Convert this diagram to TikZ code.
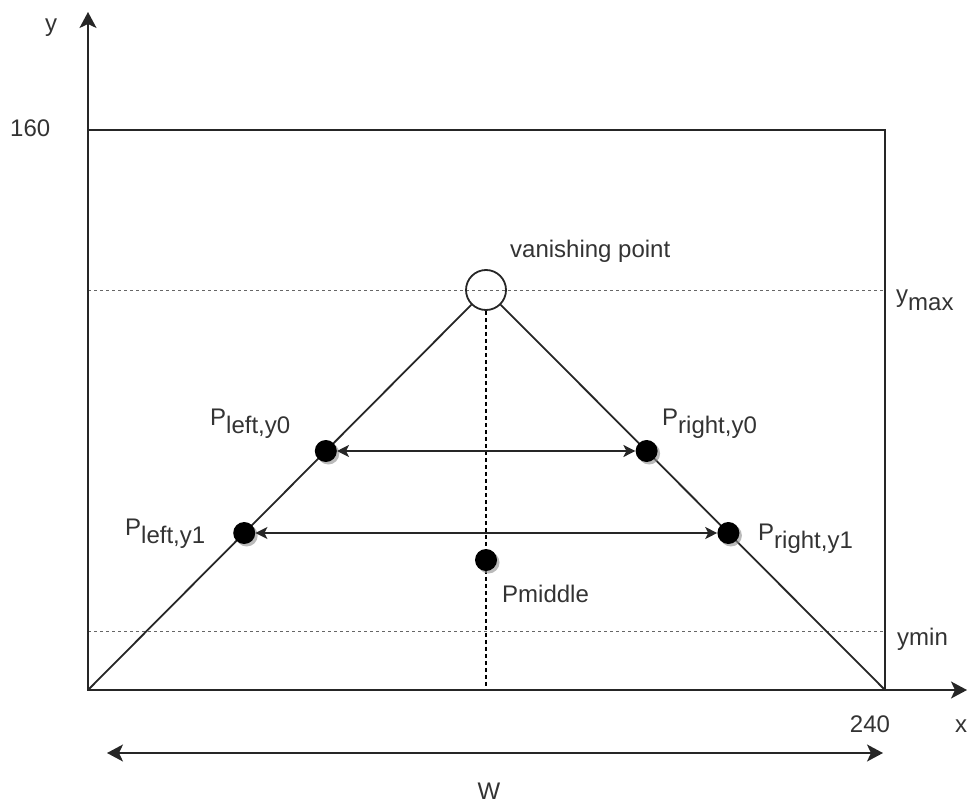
\documentclass[tikz,border=0pt]{standalone}
\usepackage{fontspec}
\setmainfont{Liberation Sans}
\usetikzlibrary{arrows.meta,calc,shadows}
\tikzset{
  bigtip/.tip={Stealth[length=16pt,width=17pt,inset=4pt]},
  smalltip/.tip={Stealth[length=12pt,width=12pt,inset=3pt]},
  line/.style={line width=1.8pt, draw=black!85},
  hdash/.style={line width=0.9pt, draw=black!60, dash pattern=on 3pt off 3pt},
  vdash/.style={line width=1.3pt, draw=black, dash pattern=on 4pt off 3pt},
  lbl/.style={font=\fontsize{24}{28}\selectfont, text=black!80, inner sep=0pt},
  dotnode/.style={circle, fill=black, minimum size=22pt, inner sep=0pt,
    drop shadow={shadow xshift=2.5pt, shadow yshift=-2.5pt, fill=black!45, opacity=0.6}},
  vpnode/.style={circle, draw=black!85, line width=1.8pt, minimum size=40pt, inner sep=0pt}
}
\newcommand{\lowsub}[1]{\raisebox{-8pt}{#1}}
\begin{document}
\begin{tikzpicture}[x=1pt,y=-1pt]
\useasboundingbox (0,0) rectangle (968,805);
% frame coordinates
\coordinate (O) at (88,690);
\coordinate (R) at (885,690);
\coordinate (TL) at (88,130);
\coordinate (TR) at (885,130);
\coordinate (ytip) at (88,12);
\coordinate (xtip) at (967,690);
\coordinate (wl) at (107,753);
\coordinate (wr) at (883,753);
\coordinate (ymaxl) at (88,290);
\coordinate (ymaxr) at (885,290);
\coordinate (yminl) at (88,631);
\coordinate (yminr) at (885,631);
\coordinate (mbot) at (486,690);

% rectangle
\draw[line] (O) rectangle (TR);

% dashed horizontal levels
\draw[hdash] (ymaxl) -- (ymaxr);
\draw[hdash] (yminl) -- (yminr);

% vanishing point
\node[vpnode] (vp) at (486,290) {};

% triangle sides
\draw[line] (O) -- (vp);
\draw[line] (R) -- (vp);

% vertical dashed middle
\draw[vdash] (vp.south) -- (mbot);

% axes
\draw[line,-{bigtip}] (O) -- (ytip);
\draw[line,-{bigtip}] (O) -- (xtip);

% points
\node[dotnode] (pl0) at ($(O)!0.5975!(vp)$) {};
\node[dotnode] (pr0) at ($(R)!0.5975!(vp)$) {};
\node[dotnode] (pl1) at ($(O)!0.3925!(vp)$) {};
\node[dotnode] (pr1) at ($(R)!0.3925!(vp)$) {};
\node[dotnode] (pm) at (486,560) {};

% arrows between points
\draw[line,{smalltip}-{smalltip}] (pl0) -- (pr0);
\draw[line,{smalltip}-{smalltip}] (pl1) -- (pr1);

% width arrow
\draw[line,{bigtip}-{bigtip}] (wl) -- (wr);

% labels
\node[lbl, anchor=base west] (ylab) at (45,32) {y};
\node[lbl, anchor=base west] (l160) at (10,137) {160};
\node[lbl, anchor=base west] (vplab) at (510,257) {vanishing point};
\node[lbl, anchor=base west] (ymaxlab) at (896,302) {y\lowsub{max}};
\node[lbl, anchor=base west] (yminlab) at (897,645) {ymin};
\node[lbl, anchor=base west] (pl0lab) at (210,425) {P\lowsub{left,y0}};
\node[lbl, anchor=base west] (pr0lab) at (662,425) {P\lowsub{right,y0}};
\node[lbl, anchor=base west] (pl1lab) at (125,535) {P\lowsub{left,y1}};
\node[lbl, anchor=base west] (pr1lab) at (758,540) {P\lowsub{right,y1}};
\node[lbl, anchor=base west] (pmlab) at (502,602) {Pmiddle};
\node[lbl, anchor=base] (l240) at (870,732) {240};
\node[lbl, anchor=base west] (xlab) at (955,732) {x};
\node[lbl, anchor=base] (wlab) at (489,799) {W};
\end{tikzpicture}
\end{document}
